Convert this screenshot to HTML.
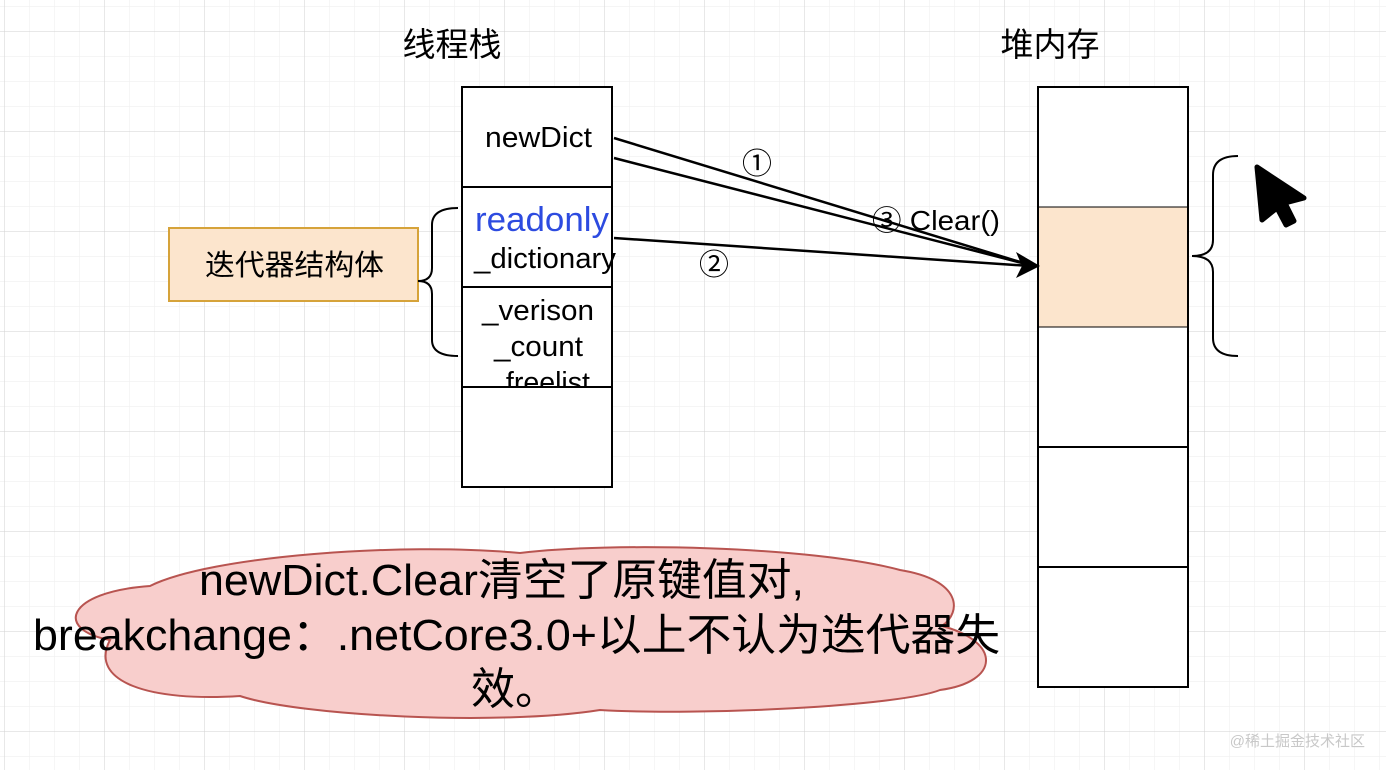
<!DOCTYPE html>
<html><head><meta charset="utf-8"><style>
html,body{margin:0;padding:0;background:#fff;}
svg{display:block;}
text{font-family:"Liberation Sans","Noto Sans CJK SC",sans-serif;}
</style></head><body>
<svg width="1386" height="770" viewBox="0 0 1386 770" xmlns="http://www.w3.org/2000/svg">
<defs>
<pattern id="minor" width="25" height="25" patternUnits="userSpaceOnUse" x="4" y="6">
<path d="M0 0H25M0 0V25" stroke="#efefef" stroke-width="1.2" fill="none"/>
</pattern>
<pattern id="major" width="100" height="100" patternUnits="userSpaceOnUse" x="4" y="31">
<path d="M0 0H100M0 0V100" stroke="#d4d4d4" stroke-width="1" fill="none"/>
</pattern>
<clipPath id="cl"><rect x="462" y="287" width="150" height="99"/></clipPath>
</defs>
<rect width="1386" height="770" fill="url(#minor)"/>
<rect width="1386" height="770" fill="url(#major)"/>

<text x="452" y="56" font-size="33" text-anchor="middle">线程栈</text>
<text x="1050" y="56" font-size="33" text-anchor="middle">堆内存</text>

<!-- stack -->
<rect x="462" y="87" width="150" height="400" fill="#fff" stroke="#000" stroke-width="2"/>
<text x="485" y="147" font-size="29" textLength="107" lengthAdjust="spacingAndGlyphs">newDict</text>
<text x="475" y="231" font-size="34" fill="#2d4be0" textLength="134" lengthAdjust="spacingAndGlyphs">readonly</text>
<text x="474" y="268" font-size="29" textLength="142" lengthAdjust="spacingAndGlyphs">_dictionary</text>
<g clip-path="url(#cl)">
<text x="482" y="320" font-size="29" textLength="112" lengthAdjust="spacingAndGlyphs">_verison</text>
<text x="494" y="356" font-size="29" textLength="89" lengthAdjust="spacingAndGlyphs">_count</text>
<text x="490" y="392" font-size="29" textLength="100" lengthAdjust="spacingAndGlyphs">_freelist</text>
</g>
<line x1="462" y1="187" x2="612" y2="187" stroke="#000" stroke-width="2"/>
<line x1="462" y1="287" x2="612" y2="287" stroke="#000" stroke-width="2"/>
<line x1="462" y1="387" x2="612" y2="387" stroke="#000" stroke-width="2"/>
<rect x="462" y="87" width="150" height="400" fill="none" stroke="#000" stroke-width="2"/>

<!-- heap -->
<rect x="1038" y="87" width="150" height="600" fill="#fff" stroke="#000" stroke-width="2"/>
<rect x="1038" y="207" width="150" height="120" fill="#fce5cd"/>
<line x1="1038" y1="207" x2="1188" y2="207" stroke="#000" stroke-width="1"/>
<line x1="1038" y1="327" x2="1188" y2="327" stroke="#000" stroke-width="1"/>
<line x1="1038" y1="447" x2="1188" y2="447" stroke="#000" stroke-width="2"/>
<line x1="1038" y1="567" x2="1188" y2="567" stroke="#000" stroke-width="2"/>
<rect x="1038" y="87" width="150" height="600" fill="none" stroke="#000" stroke-width="2"/>

<!-- arrows -->
<g stroke="#000" stroke-width="2.5" fill="none">
<line x1="614" y1="138" x2="1030" y2="265"/>
<line x1="614" y1="158" x2="1030" y2="265"/>
<line x1="614" y1="238" x2="1030" y2="266"/>
</g>
<path d="M1040,266 L1016,252 L1022,266 L1016,278 Z" fill="#000"/>
<text x="757" y="174" font-size="30" text-anchor="middle">①</text>
<text x="714" y="275" font-size="30" text-anchor="middle">②</text>
<text x="872" y="230" font-size="28" textLength="128" lengthAdjust="spacingAndGlyphs">③ Clear()</text>

<!-- iterator box -->
<rect x="169" y="228" width="249" height="73" fill="#fce5cd" stroke="#d6a33a" stroke-width="2"/>
<text x="205" y="275" font-size="29" textLength="179" lengthAdjust="spacingAndGlyphs">迭代器结构体</text>

<!-- left brace -->
<path d="M458,208 Q432,208 432,225 L432,268 Q432,281 418,281 Q432,281 432,294 L432,340 Q432,356 458,356" fill="none" stroke="#000" stroke-width="2"/>
<!-- right brace -->
<path d="M1238,156 Q1213,156 1213,175 L1213,240 Q1213,256 1192,256 Q1213,256 1213,272 L1213,338 Q1213,356 1238,356" fill="none" stroke="#000" stroke-width="2"/>

<!-- cursor -->
<path d="M1257,167 L1304,198 L1285,203 L1294,221 L1286,225 L1277,208 L1262,220 Z" fill="#000" stroke="#000" stroke-width="5" stroke-linejoin="round"/>

<!-- cloud -->
<path d="M110,640 C55,630 65,592 150,586 C210,556 400,542 520,553 C610,542 810,546 900,570 C962,580 962,612 942,626 C1002,642 1000,682 940,690 C900,706 700,716 600,710 C500,726 300,716 240,696 C150,702 88,682 110,640 Z" fill="#f8cecc" stroke="#b85450" stroke-width="2"/>
<text x="199" y="595" font-size="44" textLength="605" lengthAdjust="spacingAndGlyphs">newDict.Clear清空了原键值对,</text>
<text x="33" y="650" font-size="44" textLength="967" lengthAdjust="spacingAndGlyphs">breakchange：.netCore3.0+以上不认为迭代器失</text>
<text x="515" y="704" font-size="44" text-anchor="middle">效。</text>

<text x="1365" y="746" font-size="15" fill="#c8c8c8" text-anchor="end">@稀土掘金技术社区</text>
</svg>
</body></html>
